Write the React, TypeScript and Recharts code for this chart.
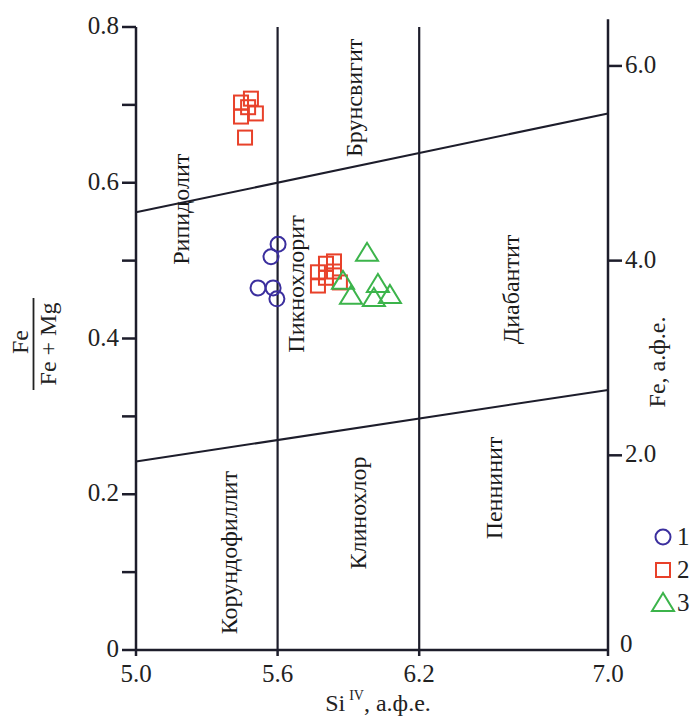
import React from 'react';
import { ScatterChart, Scatter, XAxis, YAxis, ReferenceLine, ReferenceDot } from 'recharts';

// ---- data ----
const xTicks = [5.0, 5.6, 6.2, 7.0];
const yTicks = [0, 0.1, 0.2, 0.3, 0.4, 0.5, 0.6, 0.7, 0.8];
const yLabelledTicks = [0, 0.2, 0.4, 0.6, 0.8];
const rightTicks = [0, 2, 4, 6];
const xDomain = [5, 7];
const yDomain = [0, 0.8];
const rightDomain = [0, 6.4];
const rightAxisTop = 6.48;

const series1 = [
  { x: 5.602, y: 0.521 },
  { x: 5.572, y: 0.505 },
  { x: 5.517, y: 0.465 },
  { x: 5.581, y: 0.465 },
  { x: 5.597, y: 0.451 },
];

const series2 = [
  { x: 5.445, y: 0.703 },
  { x: 5.487, y: 0.708 },
  { x: 5.475, y: 0.697 },
  { x: 5.508, y: 0.689 },
  { x: 5.445, y: 0.685 },
  { x: 5.462, y: 0.658 },
  { x: 5.771, y: 0.485 },
  { x: 5.805, y: 0.496 },
  { x: 5.839, y: 0.499 },
  { x: 5.771, y: 0.468 },
  { x: 5.805, y: 0.478 },
  { x: 5.839, y: 0.486 },
  { x: 5.864, y: 0.472 },
];

const series3 = [
  { x: 5.979, y: 0.51 },
  { x: 5.877, y: 0.474 },
  { x: 5.911, y: 0.455 },
  { x: 6.025, y: 0.47 },
  { x: 6.008, y: 0.452 },
  { x: 6.076, y: 0.456 },
];

const upperBoundary = [{ x: 5.0, y: 0.562 }, { x: 7.0, y: 0.689 }];
const lowerBoundary = [{ x: 5.0, y: 0.242 }, { x: 7.0, y: 0.334 }];
const verticalBoundaries = [5.6, 6.2];

const regionNames = ['Рипидолит', 'Брунсвигит', 'Пикнохлорит', 'Диабантит', 'Корундофиллит', 'Клинохлор', 'Пеннинит'];
const regionX = [5.192, 5.924, 5.68, 6.59, 5.392, 5.94, 6.515];
const regionY = [0.566, 0.709, 0.47, 0.463, 0.125, 0.176, 0.208];

const legendNames = ['1', '2', '3'];

// ---- styles ----
const INK = '#1d1d2b';
const BLUE = '#3b2f9e';
const RED = '#e8412a';
const GREEN = '#3cb44b';
const FONT = '"Liberation Serif", "Times New Roman", serif';

const CircleShape = (p: any) => (
  <circle cx={p.cx} cy={p.cy} r={7.5} fill="none" stroke={BLUE} strokeWidth={2} />
);
const SquareShape = (p: any) => (
  <rect x={p.cx - 7} y={p.cy - 7} width={14} height={14} fill="none" stroke={RED} strokeWidth={2} />
);
const TriangleShape = (p: any) => (
  <polygon
    points={`${p.cx},${p.cy - 10} ${p.cx - 11},${p.cy + 8} ${p.cx + 11},${p.cy + 8}`}
    fill="none"
    stroke={GREEN}
    strokeWidth={2}
  />
);

const LeftTick = (p: any) => {
  const v = p.payload.value;
  const show = yLabelledTicks.some((t) => Math.abs(t - v) < 1e-6);
  return (
    <g>
      <line x1={p.x - 14} y1={p.y} x2={p.x} y2={p.y} stroke={INK} strokeWidth={2.5} />
      {show && (
        <text x={p.x - 17} y={p.y} dy={7} textAnchor="end" fontSize={25} fontFamily={FONT} fill="#222">
          {v === 0 ? '0' : v.toFixed(1)}
        </text>
      )}
    </g>
  );
};

const RightTick = (p: any) => {
  const v = p.payload.value;
  if (v === 0) {
    return (
      <text x={p.x + 12} y={p.y - 5} dy={7} textAnchor="start" fontSize={25} fontFamily={FONT} fill="#222">
        0
      </text>
    );
  }
  return (
    <g>
      <line x1={p.x} y1={p.y} x2={p.x + 14} y2={p.y} stroke={INK} strokeWidth={2.5} />
      <text x={p.x + 17} y={p.y} dy={7} textAnchor="start" fontSize={25} fontFamily={FONT} fill="#222">
        {v.toFixed(1)}
      </text>
    </g>
  );
};

const BottomTick = (p: any) => (
  <g>
    <line x1={p.x} y1={p.y} x2={p.x} y2={p.y + 6} stroke={INK} strokeWidth={2.5} />
    <text x={p.x} y={p.y + 32} textAnchor="middle" fontSize={25} fontFamily={FONT} fill="#222">
      {p.payload.value.toFixed(1)}
    </text>
  </g>
);

const XLabel = (p: any) => {
  const vb = p.viewBox || { x: 136, y: 650, width: 472, height: 40 };
  const cx = vb.x + vb.width / 2 + 6;
  const by = vb.y + 61;
  return (
    <text x={cx} y={by} textAnchor="middle" fontSize={24} fontFamily={FONT} fill="#222">
      Si
      <tspan dx={4} dy={-11} fontSize={14}>IV</tspan>
      <tspan dy={11}>, а.ф.е.</tspan>
    </text>
  );
};

const LeftLabel = (p: any) => {
  const vb = p.viewBox || { x: 76, y: 27, width: 60, height: 623 };
  const cy = 344;
  const xFe = vb.x - 48;
  const xLine = vb.x - 42.5;
  const xDen = vb.x - 20;
  return (
    <g fontFamily={FONT} fontSize={24} fill="#222">
      <text x={xFe} y={cy - 2} textAnchor="middle" transform={`rotate(-90 ${xFe} ${cy - 2})`}>Fe</text>
      <line x1={xLine} y1={cy - 46} x2={xLine} y2={cy + 46} stroke="#222" strokeWidth={1.8} />
      <text x={xDen} y={cy} textAnchor="middle" transform={`rotate(-90 ${xDen} ${cy})`}>Fe + Mg</text>
    </g>
  );
};

const RightLabel = (p: any) => {
  const vb = p.viewBox || { x: 608, y: 27, width: 60, height: 623 };
  const x = vb.x + 57;
  const y = 362;
  return (
    <text x={x} y={y} textAnchor="middle" fontSize={24} fontFamily={FONT} fill="#222" transform={`rotate(-90 ${x} ${y})`}>
      Fe, а.ф.е.
    </text>
  );
};

const RegionText = (name: string) => (p: any) => (
  <text
    x={p.cx}
    y={p.cy}
    textAnchor="middle"
    dominantBaseline="central"
    fontSize={24}
    fontFamily={FONT}
    fill="#1a1a1a"
    transform={`rotate(-90 ${p.cx} ${p.cy})`}
  >
    {name}
  </text>
);

const legendColors = [BLUE, RED, GREEN];
const LegendBox = () => (
  <svg
    width={50}
    height={110}
    style={{ position: 'absolute', left: 648, top: 519, overflow: 'visible' }}
  >
    {legendNames.map((n, i) => {
      const cy = 18 + i * 33;
      const cx = 15;
      let marker;
      if (i === 0) marker = <circle cx={cx} cy={cy} r={7.5} fill="none" stroke={legendColors[i]} strokeWidth={2} />;
      else if (i === 1) marker = <rect x={cx - 7} y={cy - 7} width={14} height={14} fill="none" stroke={legendColors[i]} strokeWidth={2} />;
      else marker = <polygon points={`${cx},${cy - 10} ${cx - 11},${cy + 8} ${cx + 11},${cy + 8}`} fill="none" stroke={legendColors[i]} strokeWidth={2} />;
      return (
        <g key={n}>
          {marker}
          <text x={29} y={cy + 8} fontSize={25} fontFamily={FONT} fill="#222">{n}</text>
        </g>
      );
    })}
  </svg>
);

export default function App() {
  return (
    <div style={{ position: 'absolute', left: 0, top: 0, width: 698, height: 718, background: '#fff' }}>
      <ScatterChart width={698} height={718} margin={{ top: 27, right: 30, bottom: 28, left: 76 }}>
        <XAxis
          type="number"
          dataKey="x"
          domain={xDomain}
          ticks={xTicks}
          interval={0}
          allowDataOverflow
          height={40}
          tickSize={0}
          tickMargin={0}
          tickLine={false}
          tick={<BottomTick />}
          axisLine={{ stroke: INK, strokeWidth: 2.5 }}
          label={<XLabel />}
        />
        <YAxis
          yAxisId="left"
          type="number"
          dataKey="y"
          domain={yDomain}
          ticks={yTicks}
          interval={0}
          allowDataOverflow
          width={60}
          tickSize={0}
          tickMargin={0}
          tickLine={false}
          tick={<LeftTick />}
          axisLine={{ stroke: INK, strokeWidth: 2.5 }}
          label={<LeftLabel />}
        />
        <YAxis
          yAxisId="right"
          orientation="right"
          type="number"
          domain={rightDomain}
          ticks={rightTicks}
          interval={0}
          allowDataOverflow
          width={60}
          tickSize={0}
          tickMargin={0}
          tickLine={false}
          tick={<RightTick />}
          axisLine={false}
          label={<RightLabel />}
        />
        <ReferenceLine
          yAxisId="right"
          segment={[{ x: xDomain[1], y: rightDomain[0] }, { x: xDomain[1], y: rightAxisTop }]}
          stroke={INK}
          strokeWidth={2.5}
          ifOverflow="visible"
        />
        {verticalBoundaries.map((v) => (
          <ReferenceLine key={v} yAxisId="left" x={v} stroke={INK} strokeWidth={2.2} />
        ))}
        <ReferenceLine yAxisId="left" segment={upperBoundary} stroke={INK} strokeWidth={2} />
        <ReferenceLine yAxisId="left" segment={lowerBoundary} stroke={INK} strokeWidth={2} />
        {regionNames.map((n, i) => (
          <ReferenceDot key={n} yAxisId="left" x={regionX[i]} y={regionY[i]} r={0} shape={RegionText(n)} />
        ))}
        <Scatter name="1" yAxisId="left" data={series1} shape={<CircleShape />} isAnimationActive={false} />
        <Scatter name="2" yAxisId="left" data={series2} shape={<SquareShape />} isAnimationActive={false} />
        <Scatter name="3" yAxisId="left" data={series3} shape={<TriangleShape />} isAnimationActive={false} />
      </ScatterChart>
      <LegendBox />
    </div>
  );
}
